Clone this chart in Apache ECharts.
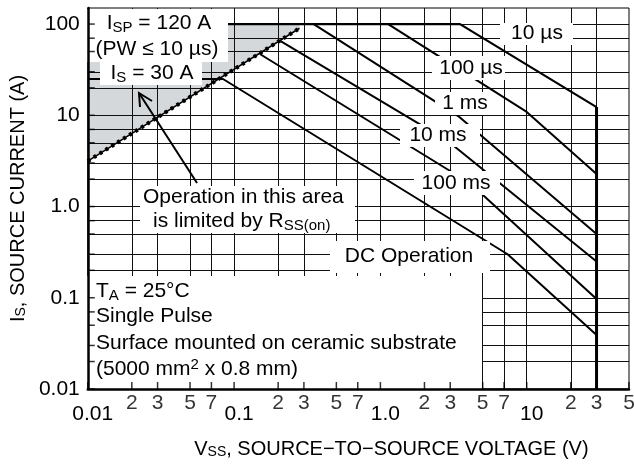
<!DOCTYPE html>
<html>
<head>
<meta charset="utf-8">
<script src="https://cdn.jsdelivr.net/npm/echarts@6/dist/echarts.min.js"></script>
<style>
html,body{margin:0;padding:0;background:#fff;}
#main{width:634px;height:464px;}
</style>
</head>
<body>
<div id="main"></div>
<script>
var FONT = '"Liberation Sans", Arial, Helvetica, sans-serif';

// axis scale
var xMin = 0.01, xMax = 50;
var yMin = 0.01, yMax = 150;
var xDecades = [0.01, 0.1, 1, 10];
var xMinor = [0.02, 0.03, 0.05, 0.07, 0.2, 0.3, 0.5, 0.7, 2, 3, 5, 7, 20, 30, 50];
var yDecades = [0.01, 0.1, 1, 10, 100];
var yMinor = [0.02, 0.03, 0.05, 0.07, 0.2, 0.3, 0.5, 0.7, 2, 3, 5, 7, 20, 30, 50, 70];
var decadeText = { '-2': '0.01', '-1': '0.1', '0': '1.0', '1': '10', '2': '100' };

// limit curves (V, A)
var rssLimit = [[0.01, 3.15], [0.28, 90]];
var rssArea = [[0.01, 3.15], [0.28, 90], [0.28, 100], [0.01, 100]];
var pulse10us = [[0.01, 100], [3.5, 100], [30, 12.3]];
var vssMax = [[30, 12.3], [30, 0.01]];
var pulse100us = [[1.13, 100], [10, 10.9], [30, 2.27]];
var pulse1ms = [[0.35, 100], [3.4, 9.8], [30, 0.5]];
var pulse10ms = [[0.208, 65], [2.9, 5.2], [30, 0.25]];
var pulse100ms = [[0.15, 47], [4.1, 1.8], [30, 0.097]];
var dcOp = [[0.01, 25], [0.084, 25], [7.4, 0.3], [30, 0.039]];

function decadeLabel(v) {
  var l = Math.log10(v), e = Math.round(l);
  if (Math.abs(l - e) > 1e-6) return '';
  return decadeText[e] || '';
}
function leadDigit(v) {
  var p = Math.pow(10, Math.floor(Math.log10(v) + 1e-9));
  return String(Math.round(v / p));
}

var chart = echarts.init(document.getElementById('main'));

function curve(data, w) {
  return {
    type: 'line', data: data, symbol: 'none', z: 3, silent: true,
    lineStyle: { color: '#000', width: w || 2 }
  };
}

var gridX = xMinor.filter(function (v) { return v < xMax; }).concat([0.1, 1, 10]);
var gridY = yMinor.concat([0.1, 1, 10, 100]);

var sub = { fontSize: 15, fontFamily: FONT, lineHeight: 10, verticalAlign: 'bottom', fill: '#000' };
var sup = { fontSize: 15, fontFamily: FONT, lineHeight: 10, verticalAlign: 'top', fill: '#000' };
var rich = { sub: sub, sup: sup };

function txt(x, y, s, align) {
  return {
    type: 'text', x: x, y: y, z: 21, silent: true,
    style: {
      text: s, fill: '#000', fontSize: 21, fontFamily: FONT, lineHeight: 24,
      align: align || 'center', textAlign: align || 'center',
      verticalAlign: 'middle', textVerticalAlign: 'middle', rich: rich
    }
  };
}
function box(x, y, w, h) {
  return { type: 'rect', z: 20, silent: true, shape: { x: x, y: y, width: w, height: h }, style: { fill: '#fff' } };
}

var option = {
  animation: false,
  backgroundColor: '#fff',
  grid: { left: 83, right: 5, top: 8, bottom: 74, show: true, borderColor: '#000', borderWidth: 1, backgroundColor: 'transparent' },
  xAxis: {
    type: 'log', logBase: 10, min: xMin, max: xMax, z: 30,
    name: 'V{sub|SS}, SOURCE\u2212TO\u2212SOURCE VOLTAGE (V)',
    nameLocation: 'middle', nameGap: 50,
    nameTextStyle: {
      fontSize: 20, fontFamily: FONT, color: '#000', padding: [0, 0, 0, 66],
      rich: { sub: { fontSize: 14, fontFamily: FONT, color: '#000', lineHeight: 10, verticalAlign: 'bottom' } }
    },
    axisLine: { lineStyle: { color: '#000', width: 2.5 } },
    axisTick: { show: false },
    splitLine: { show: false },
    axisLabel: {
      margin: 15, fontSize: 21, fontFamily: FONT, color: '#000', padding: [0, 0, 0, 10],
      formatter: function (v) { return decadeLabel(v); }
    }
  },
  yAxis: {
    type: 'log', logBase: 10, min: yMin, max: yMax, z: 30,
    name: 'I{sub|S}, SOURCE CURRENT (A)',
    nameLocation: 'middle', nameGap: 50, nameRotate: 90,
    nameTextStyle: {
      fontSize: 20, fontFamily: FONT, color: '#000',
      rich: { sub: { fontSize: 14, fontFamily: FONT, color: '#000', lineHeight: 10, verticalAlign: 'bottom' } }
    },
    axisLine: { lineStyle: { color: '#000', width: 2.5 } },
    axisTick: { show: false },
    splitLine: { show: false },
    axisLabel: {
      margin: 8, fontSize: 21, fontFamily: FONT, color: '#000',
      formatter: function (v) { return decadeLabel(v); }
    }
  },
  series: [
    {
      type: 'custom', z: 1, silent: true, data: rssArea,
      renderItem: function (params, api) {
        if (params.dataIndex > 0) return null;
        return {
          type: 'polygon',
          shape: { points: rssArea.map(function (p) { return api.coord(p); }) },
          style: { fill: '#d5d8da' }
        };
      }
    },
    {
      type: 'line', data: [], z: 2, silent: true,
      markLine: {
        z: 2, silent: true, symbol: ['none', 'none'], label: { show: false },
        lineStyle: { color: '#111', width: 1, type: 'solid' },
        data: gridX.map(function (v) { return { xAxis: v }; })
          .concat(gridY.map(function (v) { return { yAxis: v }; }))
      }
    },
    {
      type: 'line', data: rssLimit, symbol: 'none', z: 3, silent: true,
      lineStyle: { color: '#000', width: 1.5 }
    },
    {
      type: 'line', data: rssLimit, symbol: 'none', z: 3, silent: true,
      lineStyle: { color: '#000', width: 4, type: [3, 4] }
    },
    curve(pulse10us, 2.2),
    curve(vssMax, 3),
    curve(pulse100us),
    curve(pulse1ms),
    curve(pulse10ms),
    curve(pulse100ms),
    curve(dcOp),
    {
      type: 'scatter', z: 31, silent: true, symbol: 'rect', symbolSize: [1.5, 7], symbolOffset: [0, -3.5],
      itemStyle: { color: '#000' },
      data: xMinor.concat(xDecades).map(function (v) { return [v, yMin]; })
    },
    {
      type: 'scatter', z: 31, silent: true, symbol: 'rect', symbolSize: [7, 1.5], symbolOffset: [3.5, 0],
      itemStyle: { color: '#000' },
      data: yMinor.concat(yDecades).map(function (v) { return [xMin, v]; })
    },
    {
      type: 'scatter', z: 31, silent: true, symbolSize: 0,
      data: xMinor.map(function (v) { return [v, yMin]; }),
      label: {
        show: true, position: 'bottom', distance: 4,
        fontSize: 21, fontFamily: FONT, color: '#000',
        formatter: function (p) { return leadDigit(p.value[0]); }
      }
    }
  ],
  graphic: {
    z: 20,
    elements: [
      box(85, 9, 143, 53),
      box(100, 62, 102, 23),
      box(140, 186, 215, 47),
      box(330, 241, 160, 32),
      box(85, 276, 397, 113),
      box(500, 23, 73, 22),
      box(432, 56, 73, 24),
      box(435, 92, 56, 23),
      box(400, 124, 80, 23),
      box(414, 171, 86, 24),
      txt(159, 23, 'I{sub|SP} = 120 A'),
      txt(157, 49, '(PW \u2264 10 \u00b5s)'),
      txt(152, 73, 'I{sub|S} = 30 A'),
      txt(143, 197, 'Operation in this area', 'left'),
      txt(153, 221, 'is limited by R{sub|SS(on)}', 'left'),
      txt(409, 256, 'DC Operation'),
      txt(96, 291, 'T{sub|A} = 25\u00b0C', 'left'),
      txt(96, 316, 'Single Pulse', 'left'),
      txt(96, 343, 'Surface mounted on ceramic substrate', 'left'),
      txt(96, 369, '(5000 mm{sup|2} x 0.8 mm)', 'left'),
      txt(537, 33, '10 \u00b5s'),
      txt(471, 68, '100 \u00b5s'),
      txt(465, 103, '1 ms'),
      txt(438, 135, '10 ms'),
      txt(456, 183, '100 ms'),
      {
        type: 'polyline', z: 22, silent: true,
        shape: { points: [[197, 183], [139, 93]] },
        style: { stroke: '#000', lineWidth: 2, fill: null }
      },
      {
        type: 'polyline', z: 22, silent: true,
        shape: { points: [[140, 107], [139, 93], [152, 101]] },
        style: { stroke: '#000', lineWidth: 2, fill: null }
      }
    ]
  }
};

chart.setOption(option);
</script>
</body>
</html>
